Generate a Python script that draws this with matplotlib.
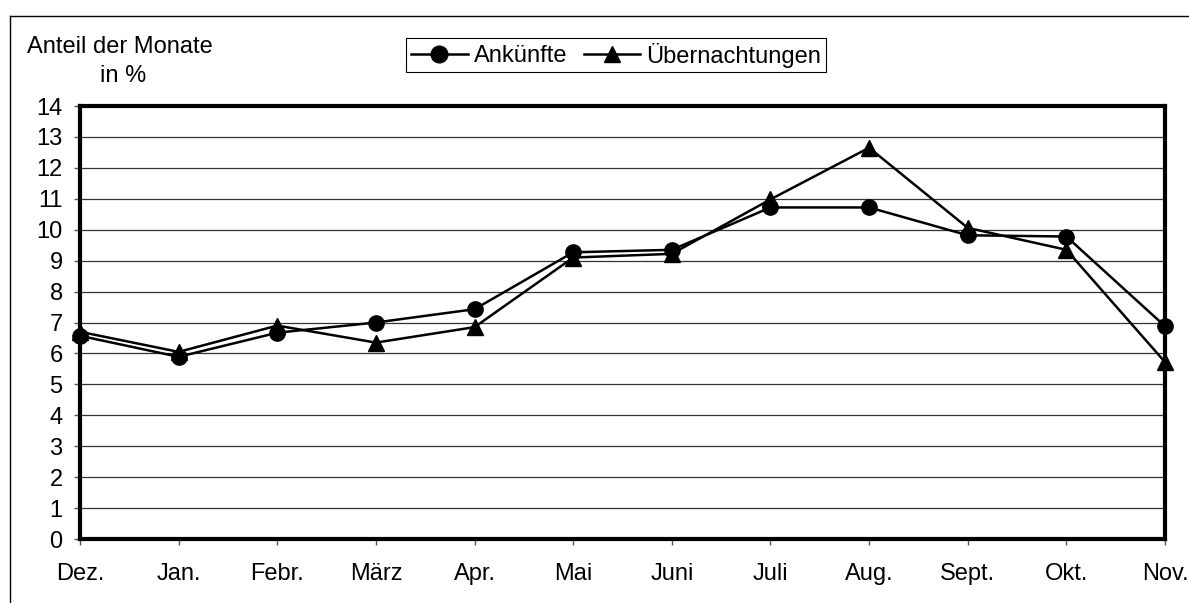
import matplotlib
matplotlib.use("Agg")
import matplotlib.pyplot as plt
from matplotlib.lines import Line2D

plt.rcParams['font.family'] = ['Liberation Sans', 'DejaVu Sans']

months = ["Dez.", "Jan.", "Febr.", "März", "Apr.", "Mai", "Juni", "Juli", "Aug.", "Sept.", "Okt.", "Nov."]
ankuenfte = [6.57, 5.89, 6.67, 7.0, 7.43, 9.27, 9.35, 10.72, 10.72, 9.82, 9.78, 6.88]
uebernachtungen = [6.7, 6.05, 6.9, 6.35, 6.85, 9.1, 9.22, 10.98, 12.65, 10.06, 9.35, 5.72]
yticks = list(range(0, 15))

FS = 17
W, H = 1189, 603
fig = plt.figure(figsize=(W / 100, H / 100), dpi=100)
ax = fig.add_axes([80 / W, 1 - 539 / H, (1165 - 80) / W, (539 - 106) / H])

x = list(range(len(months)))
ax.plot(x, ankuenfte, color='black', lw=1.8, marker='o', ms=11, clip_on=False, zorder=4)
ax.plot(x, uebernachtungen, color='black', lw=1.8, marker='^', ms=11, clip_on=False, zorder=4)

ax.set_xlim(0, len(months) - 1)
ax.set_ylim(0, 14)
ax.set_yticks(yticks)
ax.set_yticklabels([str(v) for v in yticks], fontsize=FS)
ax.set_xticks(x)
ax.set_xticklabels(months, fontsize=FS)
ax.tick_params(axis='both', direction='out', length=4.5, width=1, color='#555555')
ax.tick_params(axis='x', pad=13)
ax.tick_params(axis='y', pad=8)
ax.yaxis.grid(True, color='#333333', lw=0.9)
ax.set_axisbelow(True)
for s in ax.spines.values():
    s.set_linewidth(3)
    s.set_color('black')
    s.set_zorder(5)

fig.text(120 / W, 1 - 53 / H, "Anteil der Monate", ha='center', va='baseline', fontsize=FS)
fig.text(123 / W, 1 - 82 / H, "in %", ha='center', va='baseline', fontsize=FS)

handles = [Line2D([], [], color='black', lw=1.8, marker='o', ms=12),
           Line2D([], [], color='black', lw=1.8, marker='^', ms=12)]
leg = fig.legend(handles, ["Ankünfte", "Übernachtungen"], loc='center',
                 bbox_to_anchor=(616 / W, 1 - 55 / H), ncol=2, fontsize=FS,
                 frameon=True, fancybox=False, edgecolor='black', framealpha=1,
                 handlelength=2.4, handletextpad=0.25, columnspacing=0.7,
                 borderpad=0.2, borderaxespad=0)
leg.get_frame().set_linewidth(0.8)

# outer chart frame (top and left visible)
fig.add_artist(Line2D([10 / W, 1], [1 - 16 / H, 1 - 16 / H], color='black', lw=1, transform=fig.transFigure))
fig.add_artist(Line2D([10 / W, 10 / W], [0, 1 - 16 / H], color='black', lw=1, transform=fig.transFigure))

fig.savefig("out.png", dpi=100)
